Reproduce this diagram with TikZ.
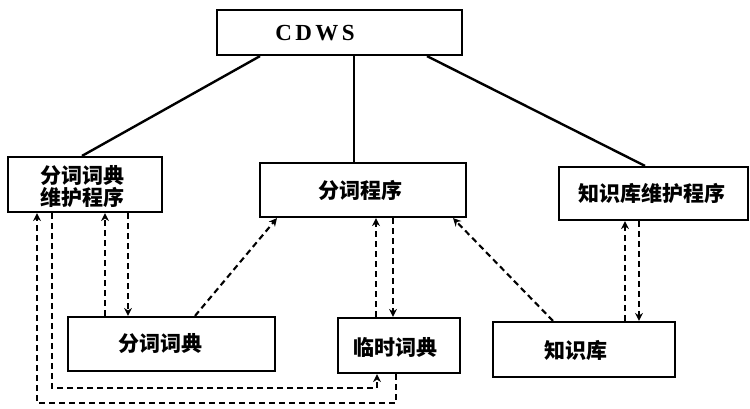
\documentclass[tikz,border=0pt]{standalone}
\usepackage{fontspec}
\newfontfamily\cjk{Noto Sans CJK SC}
\newfontfamily\cdwsfont[LetterSpace=15]{Liberation Serif}
\usetikzlibrary{arrows.meta}
\begin{document}
\begin{tikzpicture}[x=1pt,y=-1pt,
  box/.style={draw,line width=2.2pt,rectangle,inner sep=0pt},
  lbl/.style={font=\cjk\bfseries\fontsize{21}{22}\selectfont,align=center,inner sep=0pt},
  solidline/.style={line width=2.4pt},
  dashar/.style={line width=2.1pt,dash pattern=on 6pt off 4pt,-{Stealth[length=8pt,width=8pt]}},
  dashln/.style={line width=2.1pt,dash pattern=on 6pt off 4pt}]
\useasboundingbox (0,0) rectangle (750,408);
% boxes
\node[box,minimum width=245pt,minimum height=45pt] (top) at (339.5,32.5) {};
\node[font=\cdwsfont\bfseries\fontsize{23}{24}\selectfont,inner sep=0pt] (ttop) at (315,33) {CDWS};
\node[box,minimum width=154pt,minimum height=55pt] (b1) at (85,184.5) {};
\node[lbl] (t1) at (82,187) {分词词典\\维护程序};
\node[box,minimum width=206pt,minimum height=54pt] (b2) at (363,190) {};
\node[lbl] (t2) at (360,190) {分词程序};
\node[box,minimum width=189pt,minimum height=53pt] (b3) at (653.5,193.5) {};
\node[lbl] (t3) at (652,193) {知识库维护程序};
\node[box,minimum width=207pt,minimum height=54pt] (b4) at (171.5,344) {};
\node[lbl] (t4) at (160,344) {分词词典};
\node[box,minimum width=122pt,minimum height=55pt] (b5) at (399,345.5) {};
\node[lbl] (t5) at (395,347) {临时词典};
\node[box,minimum width=182pt,minimum height=55pt] (b6) at (584,349.5) {};
\node[lbl] (t6) at (576,350) {知识库};
% helper coordinates
\coordinate (xa) at (260,0);
\coordinate (xb) at (354,0);
\coordinate (xc) at (427,0);
\coordinate (xd) at (82,0);
\coordinate (xe) at (645,0);
\coordinate (x105) at (105,0);
\coordinate (x128) at (128,0);
\coordinate (x195) at (195,0);
\coordinate (x277) at (277,0);
\coordinate (x376) at (376,0);
\coordinate (x393) at (393,0);
\coordinate (x453) at (453,0);
\coordinate (x553) at (553,0);
\coordinate (x625) at (625,0);
\coordinate (x639) at (639,0);
\coordinate (o1) at (396,403);
\coordinate (o2) at (37,403);
\coordinate (i1) at (52,388);
\coordinate (i2) at (377,388);
% solid lines from CDWS
\draw[solidline] (top.south -| xa) -- (b1.north -| xd);
\draw[solidline] (top.south -| xb) -- (b2.north -| xb);
\draw[solidline] (top.south -| xc) -- (b3.north -| xe);
% dashed connectors
\draw[dashar] (b4.north -| x105) -- (b1.south -| x105);
\draw[dashar] (b1.south -| x128) -- (b4.north -| x128);
\draw[dashar] (b4.north -| x195) -- (b2.south -| x277);
\draw[dashar] (b5.north -| x376) -- (b2.south -| x376);
\draw[dashar] (b2.south -| x393) -- (b5.north -| x393);
\draw[dashar] (b6.north -| x553) -- (b2.south -| x453);
\draw[dashar] (b6.north -| x625) -- (b3.south -| x625);
\draw[dashar] (b3.south -| x639) -- (b6.north -| x639);
\draw[dashar] (b5.south -| o1) -- (o1) -- (o2) -- (b1.south -| o2);
\draw[dashar] (b1.south -| i1) -- (i1) -- (i2) -- (b5.south -| i2);
\end{tikzpicture}
\end{document}
